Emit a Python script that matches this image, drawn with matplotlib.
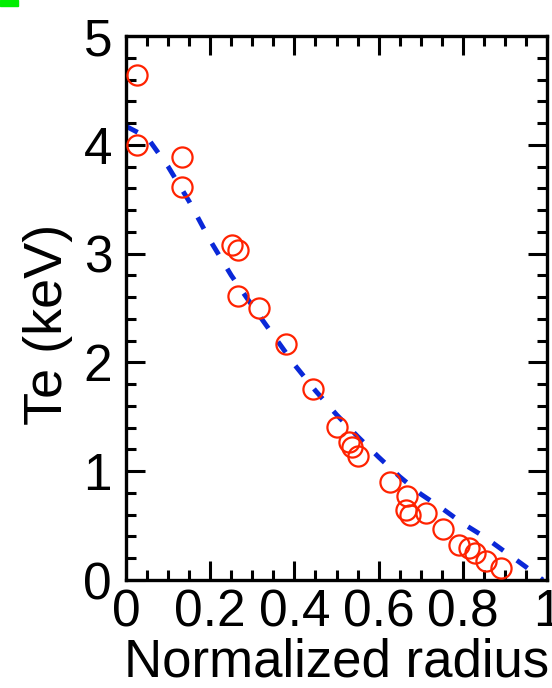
import numpy as np
import matplotlib
matplotlib.use('Agg')
import matplotlib.pyplot as plt
from matplotlib.patches import Rectangle
from matplotlib.ticker import MultipleLocator

plt.rcParams['font.family'] = ['Liberation Sans', 'DejaVu Sans']

# measured Te (red circles)
r_meas = [0.026, 0.026, 0.134, 0.134, 0.252, 0.267, 0.267, 0.317, 0.379, 0.443,
          0.502, 0.530, 0.537, 0.550, 0.627, 0.668, 0.664, 0.674, 0.712, 0.752,
          0.790, 0.814, 0.830, 0.855, 0.890]
te_meas = [4.64, 4.00, 3.89, 3.61, 3.08, 3.03, 2.61, 2.50, 2.17, 1.755,
           1.41, 1.27, 1.22, 1.14, 0.90, 0.77, 0.64, 0.60, 0.615, 0.47,
           0.32, 0.29, 0.25, 0.175, 0.11]

# fitted profile (blue dashed)
r_fit = [0.0, 0.05, 0.1, 0.15, 0.2, 0.25, 0.3, 0.35, 0.4, 0.45, 0.5,
         0.55, 0.6, 0.65, 0.7, 0.75, 0.8, 0.85, 0.9, 0.95, 0.99]
te_fit = [4.17, 4.07, 3.80, 3.48, 3.12, 2.80, 2.52, 2.25, 1.98, 1.74, 1.52,
          1.32, 1.13, 0.95, 0.79, 0.66, 0.52, 0.40, 0.26, 0.12, 0.0]

xticks = [0, 0.2, 0.4, 0.6, 0.8, 1]
xticklabels = ['0', '0.2', '0.4', '0.6', '0.8', '1']

fig = plt.figure(figsize=(5.52, 6.88), dpi=100)
ax = fig.add_axes([126/552, (688-580)/688, (547-126)/552, (580-36)/688])

ax.plot(r_fit, te_fit, color='#0a28d8', lw=3.5, linestyle=(0, (2.7, 3.4)),
        dash_capstyle='butt', zorder=2)
ax.plot(r_meas, te_meas, 'o', mfc='none', mec='#ff2200', ms=14.5, mew=1.6, zorder=3)

ax.set_xlim(0, 1)
ax.set_ylim(0, 5)
ax.set_xticks(xticks)
ax.set_xticklabels(xticklabels)
ax.set_yticks([0, 1, 2, 3, 4, 5])
ax.xaxis.set_minor_locator(MultipleLocator(0.05))
ax.yaxis.set_minor_locator(MultipleLocator(0.2))
ax.tick_params(which='both', direction='in', top=True, right=True, width=2.2, color='black')
ax.tick_params(which='major', length=14, labelsize=37)
ax.tick_params(which='minor', length=7)
ax.tick_params(axis='y', which='major', pad=10)
ax.tick_params(axis='x', which='major', pad=6)
for s in ax.spines.values():
    s.set_linewidth(2.4)

ax.set_xlabel('Normalized radius', fontsize=38, labelpad=0)
ax.set_ylabel('Te (keV)', fontsize=39)
ax.yaxis.set_label_coords(-0.125, 0.47)

fig.patches.append(Rectangle((0, 1-6/688), 18/552, 6/688, transform=fig.transFigure,
                             color='#00ee00', zorder=5))

fig.savefig('out.png', dpi=100)
